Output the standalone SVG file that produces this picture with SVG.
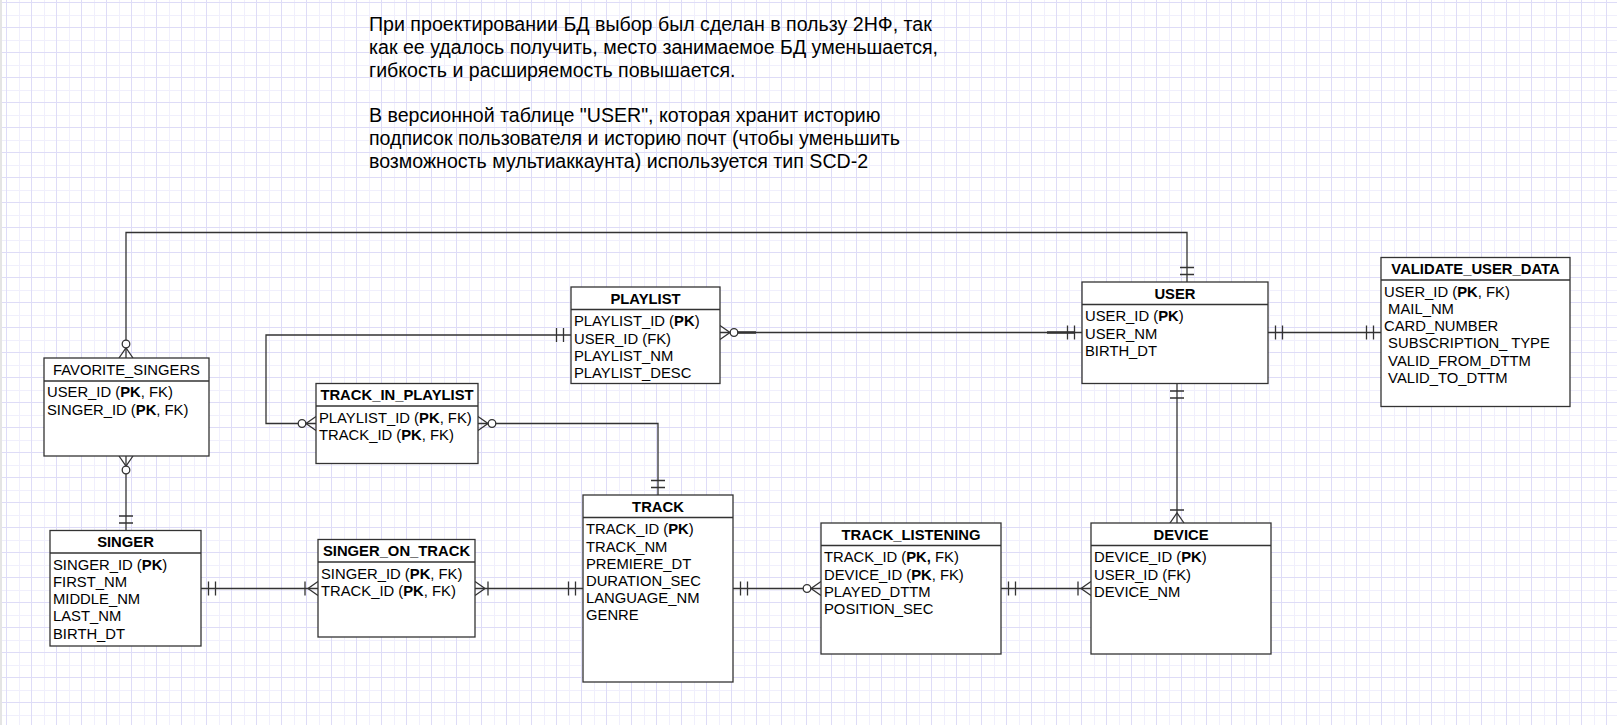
<svg xmlns="http://www.w3.org/2000/svg" xmlns:xlink="http://www.w3.org/1999/xlink" width="1617" height="725" viewBox="0 0 1617 725">
<style>
.box{fill:#fff;stroke:#333;stroke-width:1.3}
.sep{stroke:#333;stroke-width:1.3}
.t{font-family:"Liberation Sans",Arial,sans-serif;font-size:14.8px;fill:#000}
.h{font-weight:bold;text-anchor:middle}
.hn{text-anchor:middle}
.b{font-weight:bold}
.title{font-family:"Liberation Sans",Arial,sans-serif;font-size:19.6px;fill:#000}
.c{fill:none;stroke:#333;stroke-width:1.3}
.ck{fill:none;stroke:#333;stroke-width:2.6}
.sym{fill:none;stroke:#333;stroke-width:1.3}
.circ{fill:#fff;stroke:#333;stroke-width:1.3}
</style>
<defs>
<pattern id="grid" width="25" height="25" patternUnits="userSpaceOnUse" x="6" y="2">
<rect width="25" height="25" fill="#fff"/>
<rect x="13" width="1" height="25" fill="#f0effc"/>
<rect y="13" width="25" height="1" fill="#f0effc"/>
<rect width="1" height="25" fill="#dedcf7"/>
<rect width="25" height="1" fill="#dedcf7"/>
</pattern>
<g id="one"><path class="sym" d="M-7.5,-7V7M-14.5,-7V7"/></g>
<g id="many1"><path class="sym" d="M-13,-7V7M0,-7L-10,0L0,7"/></g>
<g id="many0"><path class="sym" d="M0,-7L-10,0L0,7"/><circle class="circ" cx="-14" cy="0" r="3.8"/></g>
</defs>
<rect width="1617" height="725" fill="url(#grid)"/>
<rect x="0" y="0" width="2" height="725" fill="#e4e4e4"/>

<g id="note">
<text class="title" x="369" y="31.2">При проектировании БД выбор был сделан в пользу 2НФ, так</text>
<text class="title" x="369" y="54">как ее удалось получить, место занимаемое БД уменьшается,</text>
<text class="title" x="369" y="76.8">гибкость и расширяемость повышается.</text>
<text class="title" x="369" y="122.4">В версионной таблице "USER", которая хранит историю</text>
<text class="title" x="369" y="145.2">подписок пользователя и историю почт (чтобы уменьшить</text>
<text class="title" x="369" y="168">возможность мультиаккаунта) используется тип SCD-2</text>
</g>

<g id="connectors">
<path class="c" d="M126,358V232.5H1187V282"/>
<path class="c" d="M126,456V530.5"/>
<path class="c" d="M571,335H266V423.5H316"/>
<path class="c" d="M478,423.5H658V495"/>
<path class="c" d="M720,332.5H1082"/>
<path class="ck" d="M734,332.5H756M1047,332.5H1075"/>
<path class="c" d="M1268,332.5H1381"/>
<path class="c" d="M1177,383.5V523"/>
<path class="c" d="M201,588.5H318"/>
<path class="c" d="M475,588.5H583"/>
<path class="c" d="M733,588.5H821"/>
<path class="c" d="M1001,588.5H1091"/>
<use xlink:href="#many0" transform="translate(126,358) rotate(90)"/>
<use xlink:href="#one" transform="translate(1187,282) rotate(90)"/>
<use xlink:href="#many0" transform="translate(126,456) rotate(-90)"/>
<use xlink:href="#one" transform="translate(126,530.5) rotate(90)"/>
<use xlink:href="#one" transform="translate(571,335)"/>
<use xlink:href="#many0" transform="translate(316,423.5)"/>
<use xlink:href="#many0" transform="translate(478,423.5) rotate(180)"/>
<use xlink:href="#one" transform="translate(658,495) rotate(90)"/>
<use xlink:href="#many0" transform="translate(720,332.5) rotate(180)"/>
<use xlink:href="#one" transform="translate(1082,332.5)"/>
<use xlink:href="#one" transform="translate(1268,332.5) rotate(180)"/>
<use xlink:href="#one" transform="translate(1381,332.5)"/>
<use xlink:href="#one" transform="translate(1177,383.5) rotate(-90)"/>
<use xlink:href="#many1" transform="translate(1177,523) rotate(90)"/>
<use xlink:href="#one" transform="translate(201,588.5) rotate(180)"/>
<use xlink:href="#many1" transform="translate(318,588.5)"/>
<use xlink:href="#many1" transform="translate(475,588.5) rotate(180)"/>
<use xlink:href="#one" transform="translate(583,588.5)"/>
<use xlink:href="#one" transform="translate(733,588.5) rotate(180)"/>
<use xlink:href="#many0" transform="translate(821,588.5)"/>
<use xlink:href="#one" transform="translate(1001,588.5) rotate(180)"/>
<use xlink:href="#many1" transform="translate(1091,588.5)"/>
</g>

<g id="favorite_singers">
<rect class="box" x="44" y="358" width="165" height="98"/>
<line class="sep" x1="44" y1="381" x2="209" y2="381"/>
<text class="t hn" x="126.5" y="374.8">FAVORITE_SINGERS</text>
<text class="t" x="47" y="397.3">USER_ID (<tspan class="b">PK</tspan>, FK)</text>
<text class="t" x="47" y="414.5">SINGER_ID (<tspan class="b">PK</tspan>, FK)</text>
</g>

<g id="track_in_playlist">
<rect class="box" x="316" y="383.5" width="162" height="80"/>
<line class="sep" x1="316" y1="406" x2="478" y2="406"/>
<text class="t h" x="397" y="400.3">TRACK_IN_PLAYLIST</text>
<text class="t" x="319" y="422.8">PLAYLIST_ID (<tspan class="b">PK</tspan>, FK)</text>
<text class="t" x="319" y="440">TRACK_ID (<tspan class="b">PK</tspan>, FK)</text>
</g>

<g id="playlist">
<rect class="box" x="571" y="287" width="149" height="96.5"/>
<line class="sep" x1="571" y1="309.5" x2="720" y2="309.5"/>
<text class="t h" x="645.5" y="303.8">PLAYLIST</text>
<text class="t" x="574" y="326.3">PLAYLIST_ID (<tspan class="b">PK</tspan>)</text>
<text class="t" x="574" y="343.5">USER_ID (FK)</text>
<text class="t" x="574" y="360.7">PLAYLIST_NM</text>
<text class="t" x="574" y="377.9">PLAYLIST_DESC</text>
</g>

<g id="user">
<rect class="box" x="1082" y="282" width="186" height="101.5"/>
<line class="sep" x1="1082" y1="304.5" x2="1268" y2="304.5"/>
<text class="t h" x="1175" y="298.8">USER</text>
<text class="t" x="1085" y="321.3">USER_ID (<tspan class="b">PK</tspan>)</text>
<text class="t" x="1085" y="338.5">USER_NM</text>
<text class="t" x="1085" y="355.7">BIRTH_DT</text>
</g>

<g id="validate_user_data">
<rect class="box" x="1381" y="257.5" width="189" height="149"/>
<line class="sep" x1="1381" y1="280" x2="1570" y2="280"/>
<text class="t h" x="1475.5" y="274.3">VALIDATE_USER_DATA</text>
<text class="t" x="1384" y="296.8">USER_ID (<tspan class="b">PK</tspan>, FK)</text>
<text class="t" x="1384" y="314" xml:space="preserve"> MAIL_NM</text>
<text class="t" x="1384" y="331.2">CARD_NUMBER</text>
<text class="t" x="1384" y="348.4" xml:space="preserve"> SUBSCRIPTION_ TYPE</text>
<text class="t" x="1384" y="365.6" xml:space="preserve"> VALID_FROM_DTTM</text>
<text class="t" x="1384" y="382.8" xml:space="preserve"> VALID_TO_DTTM</text>
</g>

<g id="singer">
<rect class="box" x="50" y="530.5" width="151" height="115.5"/>
<line class="sep" x1="50" y1="553" x2="201" y2="553"/>
<text class="t h" x="125.5" y="547.3">SINGER</text>
<text class="t" x="53" y="569.8">SINGER_ID (<tspan class="b">PK</tspan>)</text>
<text class="t" x="53" y="587">FIRST_NM</text>
<text class="t" x="53" y="604.2">MIDDLE_NM</text>
<text class="t" x="53" y="621.4">LAST_NM</text>
<text class="t" x="53" y="638.6">BIRTH_DT</text>
</g>

<g id="singer_on_track">
<rect class="box" x="318" y="539.5" width="157" height="97.5"/>
<line class="sep" x1="318" y1="562" x2="475" y2="562"/>
<text class="t h" x="396.5" y="556.3">SINGER_ON_TRACK</text>
<text class="t" x="321" y="578.8">SINGER_ID (<tspan class="b">PK</tspan>, FK)</text>
<text class="t" x="321" y="596">TRACK_ID (<tspan class="b">PK</tspan>, FK)</text>
</g>

<g id="track">
<rect class="box" x="583" y="495" width="150" height="187"/>
<line class="sep" x1="583" y1="517.5" x2="733" y2="517.5"/>
<text class="t h" x="658" y="511.8">TRACK</text>
<text class="t" x="586" y="534.3">TRACK_ID (<tspan class="b">PK</tspan>)</text>
<text class="t" x="586" y="551.5">TRACK_NM</text>
<text class="t" x="586" y="568.7">PREMIERE_DT</text>
<text class="t" x="586" y="585.9">DURATION_SEC</text>
<text class="t" x="586" y="603.1">LANGUAGE_NM</text>
<text class="t" x="586" y="620.3">GENRE</text>
</g>

<g id="track_listening">
<rect class="box" x="821" y="523" width="180" height="131"/>
<line class="sep" x1="821" y1="545.5" x2="1001" y2="545.5"/>
<text class="t h" x="911" y="539.8">TRACK_LISTENING</text>
<text class="t" x="824" y="562.3">TRACK_ID (<tspan class="b">PK,</tspan> FK)</text>
<text class="t" x="824" y="579.5">DEVICE_ID (<tspan class="b">PK</tspan>, FK)</text>
<text class="t" x="824" y="596.7">PLAYED_DTTM</text>
<text class="t" x="824" y="613.9">POSITION_SEC</text>
</g>

<g id="device">
<rect class="box" x="1091" y="523" width="180" height="131"/>
<line class="sep" x1="1091" y1="545.5" x2="1271" y2="545.5"/>
<text class="t h" x="1181" y="539.8">DEVICE</text>
<text class="t" x="1094" y="562.3">DEVICE_ID (<tspan class="b">PK</tspan>)</text>
<text class="t" x="1094" y="579.5">USER_ID (FK)</text>
<text class="t" x="1094" y="596.7">DEVICE_NM</text>
</g>
</svg>
